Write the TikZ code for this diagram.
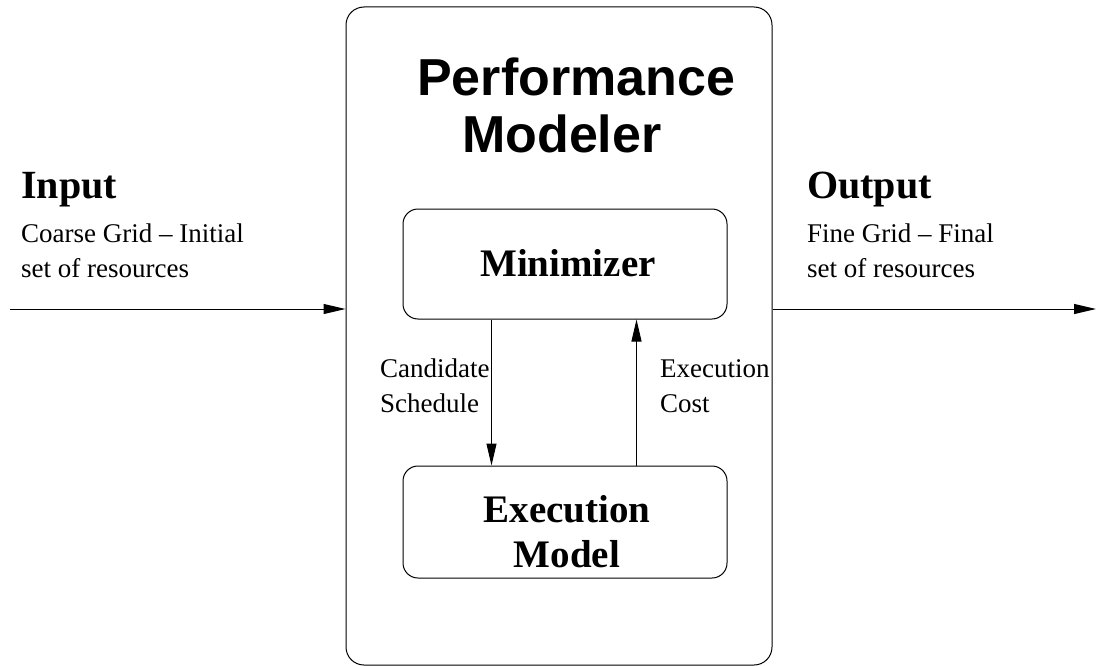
\documentclass[tikz,border=0pt]{standalone}
\usepackage{fontspec}
\setmainfont{Liberation Serif}
\newfontfamily\titlefont{Liberation Sans}
\usetikzlibrary{arrows.meta}
\begin{document}
\begin{tikzpicture}[x=1pt,y=-1pt,
  frame/.style={draw, line width=1pt, rounded corners=18pt, inner sep=0},
  unit/.style={draw, line width=1pt, rounded corners=15pt, inner sep=0,
    minimum width=324pt},
  flow/.style={-{Triangle[length=22pt,width=10pt]}, line width=1pt},
  heading/.style={inner sep=0, anchor=base west,
    font=\bfseries\fontsize{40}{48}\selectfont},
  note/.style={inner sep=0, anchor=base west,
    font=\fontsize{27}{35}\selectfont},
  unitname/.style={inner sep=0, anchor=base,
    font=\bfseries\fontsize{39}{45}\selectfont},
  title/.style={inner sep=0, anchor=base west,
    font=\titlefont\bfseries\fontsize{52}{57}\selectfont}]
\useasboundingbox (0,0) rectangle (1105,666);

% outer frame of the performance modeler
\node[frame, minimum width=426pt, minimum height=658pt] (pm) at (559,336) {};
\node[title] (t1) at (417,96) {Performance};
\node[title] (t2) at (462,153) {Modeler};

% inner units
\node[unit, minimum height=110pt] (mini) at (565,264) {};
\node[unitname] (mininame) at (568,276) {Minimizer};
\node[unit, minimum height=112pt] (exec) at (565,522) {};
\node[unitname] (exec1) at (567,522) {Execution};
\node[unitname] (exec2) at (567,567) {Model};

% loop between the units
\draw[flow] ([xshift=89pt]mini.south west) -- ([xshift=89pt]exec.north west);
\draw[flow] ([xshift=234pt]exec.north west) -- ([xshift=234pt]mini.south west);
\node[note] (cand1) at (380,377) {Candidate};
\node[note] (cand2) at (380,412) {Schedule};
\node[note] (cost1) at (660,377) {Execution};
\node[note] (cost2) at (660,412) {Cost};

% input side
\coordinate (src) at (10,309);
\draw[flow] (src) -- (src -| pm.west);
\node[heading] (inhead) at (21,198) {Input};
\node[note] (in1) at (21,242) {Coarse Grid -- Initial};
\node[note] (in2) at (21,277) {set of resources};

% output side
\coordinate (dst) at (1096,309);
\draw[flow] (src -| pm.east) -- (dst);
\node[heading] (outhead) at (807,198) {Output};
\node[note] (out1) at (807,242) {Fine Grid -- Final};
\node[note] (out2) at (807,277) {set of resources};
\end{tikzpicture}
\end{document}
